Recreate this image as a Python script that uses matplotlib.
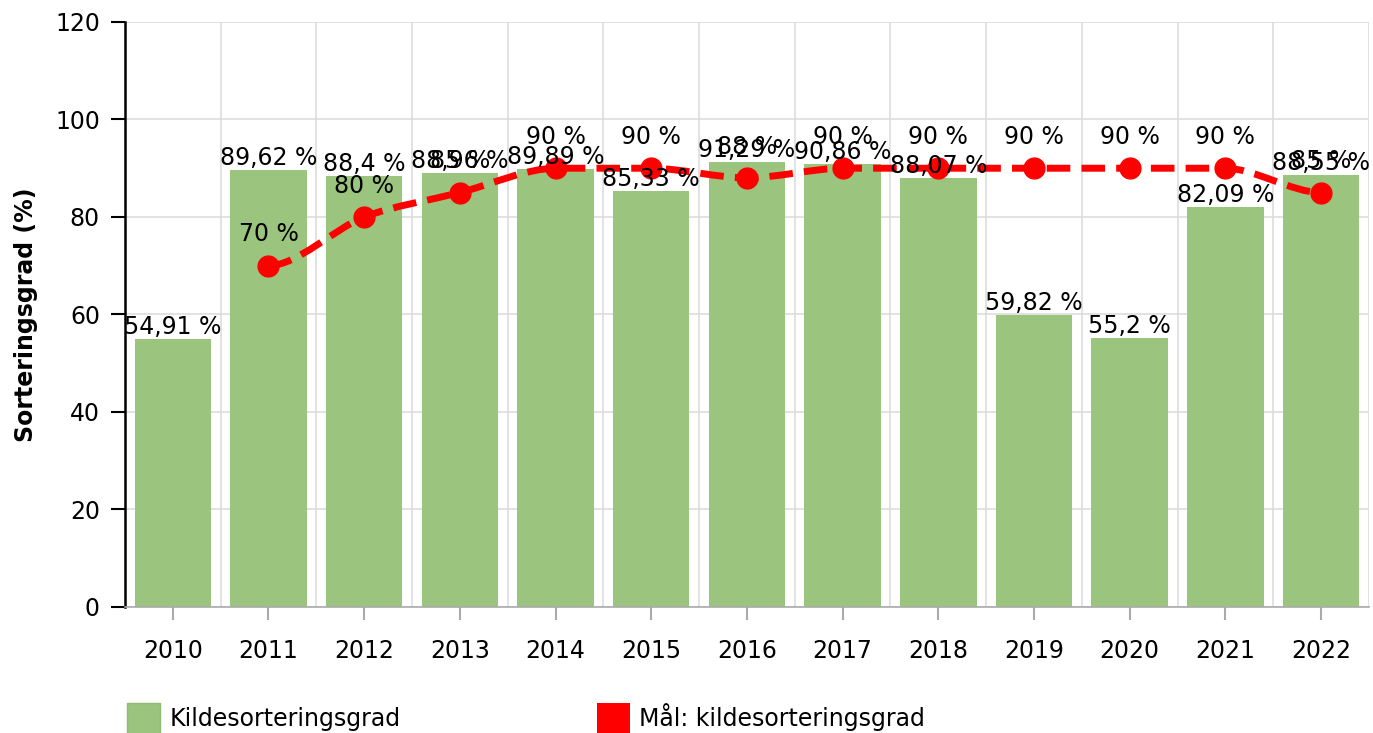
import matplotlib
matplotlib.use("Agg")
import matplotlib.pyplot as plt
import numpy as np
from matplotlib.path import Path
from matplotlib.patches import PathPatch, Patch

years = ['2010', '2011', '2012', '2013', '2014', '2015', '2016',
         '2017', '2018', '2019', '2020', '2021', '2022']
sortering = [54.91, 89.62, 88.4, 88.96, 89.89, 85.33, 91.29,
             90.86, 88.07, 59.82, 55.2, 82.09, 88.55]
maal_years = years[1:]
maal = [70, 80, 85, 90, 90, 88, 90, 90, 90, 90, 90, 85]

bar_color = '#9bc47e'
line_color = '#ff0000'
fs = 17

plt.rcParams['font.family'] = ['DejaVu Sans']

fig = plt.figure(figsize=(13.73, 7.33), dpi=100)
ax = fig.add_axes([0.091, 0.172, 0.906, 0.798])

x = np.arange(len(years))
ax.bar(x, sortering, width=0.8, color=bar_color, zorder=2)

# verdier over stolpene, med komma
for xi, v in zip(x, sortering):
    txt = f'{v:g}'.replace('.', ',') + ' %'
    ax.annotate(txt, (xi, v), xytext=(0, 0), textcoords='offset points',
                ha='center', va='bottom', fontsize=fs, zorder=5)

# glatt stiplet mål-linje (bezier gjennom punktene)
mx = np.array([years.index(y) for y in maal_years], dtype=float)
my = np.array(maal, dtype=float)
verts = [(mx[0], my[0])]
codes = [Path.MOVETO]
k = 0.3
for i in range(len(mx) - 1):
    dx = mx[i + 1] - mx[i]
    s0 = 0 if i == 0 else (my[i + 1] - my[i - 1]) / 2
    s1 = 0 if i + 2 >= len(mx) else (my[i + 2] - my[i]) / 2
    if i > 0 and (my[i] - my[i - 1]) * (my[i + 1] - my[i]) <= 0:
        s0 = 0
    if i + 2 < len(mx) and (my[i + 1] - my[i]) * (my[i + 2] - my[i + 1]) <= 0:
        s1 = 0
    verts += [(mx[i] + k * dx, my[i] + k * s0),
              (mx[i + 1] - k * dx, my[i + 1] - k * s1),
              (mx[i + 1], my[i + 1])]
    codes += [Path.CURVE4, Path.CURVE4, Path.CURVE4]
curve = PathPatch(Path(verts, codes), facecolor='none', edgecolor=line_color,
                  linewidth=5, linestyle=(0, (3.4, 1.6)), zorder=3, capstyle='butt')
ax.add_patch(curve)
ax.plot(mx, my, 'o', color=line_color, markersize=15, zorder=4)

for xi, v in zip(mx, my):
    ax.annotate(f'{v:g} %', (xi, v), xytext=(0, 14), textcoords='offset points',
                ha='center', va='bottom', fontsize=fs, zorder=5)

ax.set_xlim(-0.5, len(years) - 0.5)
ax.set_ylim(0, 120)
ax.set_yticks(np.arange(0, 121, 20))
ax.set_xticks(x)
ax.set_xticklabels(years)
ax.set_xticks(np.arange(-0.5, len(years), 1), minor=True)

ax.grid(axis='y', color='#dddddd', linewidth=1.2, zorder=0)
ax.grid(axis='x', which='minor', color='#dddddd', linewidth=1.2, zorder=0)
ax.grid(axis='x', which='major', visible=False)
ax.set_axisbelow(True)

ax.tick_params(axis='y', labelsize=fs, length=10, width=1.5, pad=8)
ax.tick_params(axis='x', which='major', labelsize=fs, length=9, width=1.5,
               color='#aaaaaa', pad=14)
ax.tick_params(axis='x', which='minor', length=0)

for side in ['top', 'right']:
    ax.spines[side].set_visible(False)
ax.spines['left'].set_linewidth(1.8)
ax.spines['bottom'].set_color('#aaaaaa')
ax.spines['bottom'].set_linewidth(1.2)

ax.set_ylabel('Sorteringsgrad (%)', fontsize=fs, fontweight='bold', labelpad=12)

handles = [Patch(facecolor=bar_color, edgecolor='#8fbb70', label='Kildesorteringsgrad'),
           Patch(facecolor=line_color, label='Mål: kildesorteringsgrad')]
fig.legend(handles=handles, loc='lower left', bbox_to_anchor=(0.077, -0.03),
           ncol=2, frameon=False, fontsize=fs, handlelength=1.4, handleheight=1.6,
           columnspacing=8.3, handletextpad=0.4)

fig.savefig('out.png', dpi=100)
